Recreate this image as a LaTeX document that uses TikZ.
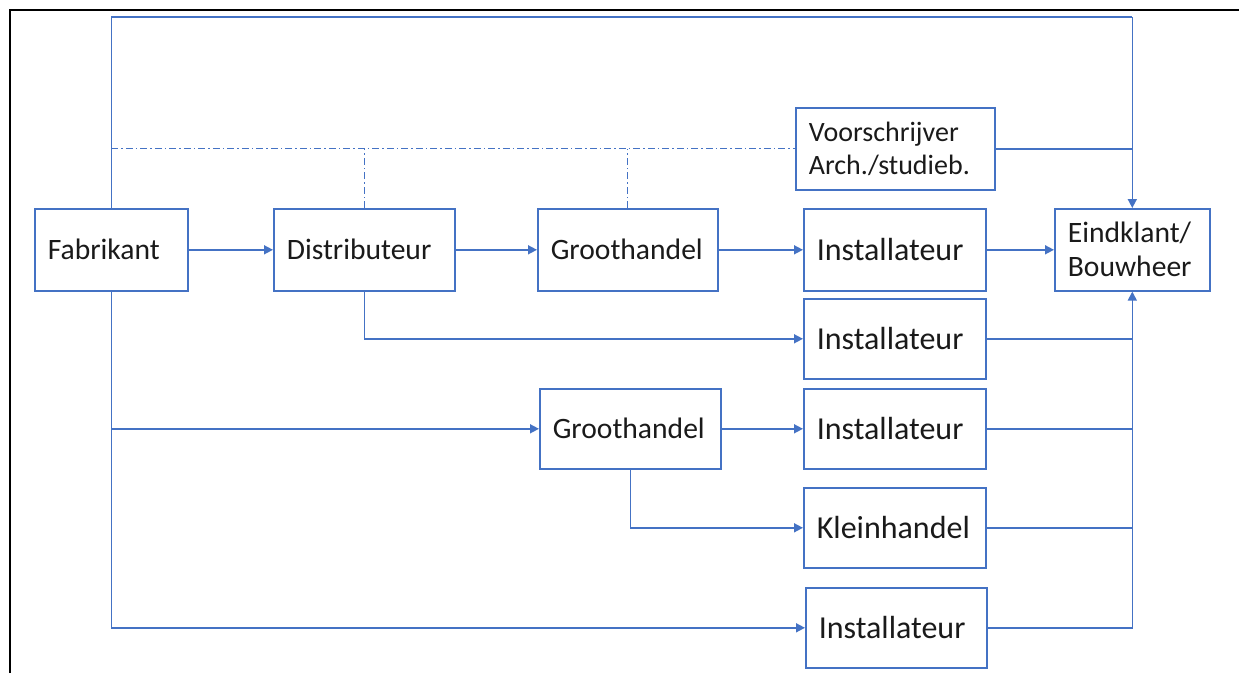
\documentclass[tikz,border=0pt]{standalone}
\usepackage{fontspec}
\setmainfont{Carlito}
\usetikzlibrary{arrows.meta}
\definecolor{lblue}{HTML}{4472C4}
\definecolor{txt}{HTML}{1A1A1A}
\tikzset{
  box/.style={draw=lblue, line width=1.6pt, inner xsep=13pt, inner ysep=0pt, align=left, anchor=north west, text=txt},
  fsmall/.style={font=\fontsize{28}{33}\selectfont},
  fmid/.style={font=\fontsize{29.6}{34}\selectfont},
  fbig/.style={font=\fontsize{32}{36}\selectfont},
  conn/.style={draw=lblue, line width=1.6pt},
  arr/.style={conn, -{Triangle[length=9pt,width=9pt]}},
  dd/.style={conn, line width=1.2pt, dash pattern=on 7pt off 3pt on 1.5pt off 3pt},
  frame/.style={draw=black, line width=2.2pt}
}
\begin{document}
\begin{tikzpicture}[x=1pt,y=1pt]
\useasboundingbox (0,0) rectangle (1239,-673);
\draw[frame] (10,-673) -- (10,-10) -- (1239,-10);
% boxes
\node[box, fmid, text width=127pt, minimum height=82pt] (fab) at (34,-208) {Fabrikant};
\node[box, fmid, text width=155pt, minimum height=82pt] (dist) at (273,-208) {Distributeur};
\node[box, fmid, text width=154pt, minimum height=82pt] (gh1) at (537,-208) {Groothandel};
\node[box, fbig, text width=156pt, minimum height=82pt] (inst1) at (803,-208) {Installateur};
\node[box, fmid, text width=129pt, minimum height=82pt] (eind) at (1054,-208) {Eindklant/\\Bouwheer};
\node[box, fsmall, text width=173pt, minimum height=82pt] (voor) at (795,-107) {Voorschrijver\\Arch./studieb.};
\node[box, fbig, text width=156pt, minimum height=80pt] (inst2) at (803,-298) {Installateur};
\node[box, fmid, text width=155pt, minimum height=80pt] (gh2) at (539,-388) {Groothandel};
\node[box, fbig, text width=156pt, minimum height=80pt] (inst3) at (803,-388) {Installateur};
\node[box, fbig, text width=156pt, minimum height=80pt] (klein) at (803,-487) {Kleinhandel};
\node[box, fbig, text width=155pt, minimum height=80pt] (inst4) at (805,-587) {Installateur};
% top connection
\coordinate (tr) at (eind.north |- 0,-17);
\draw[conn] (fab.north) |- (tr);
\draw[arr] (tr) -- (eind.north);
% dash-dot links
\coordinate (ddl) at (fab.north |- voor.west);
\draw[dd] (ddl) -- (voor.west);
\draw[dd] (dist.north) -- (dist.north |- voor.west);
\draw[dd] (gh1.north) -- (gh1.north |- voor.west);
\draw[conn] (voor.east) -- (eind.north |- voor.east);
% main row
\draw[arr] (fab.east) -- (dist.west);
\draw[arr] (dist.east) -- (gh1.west);
\draw[arr] (gh1.east) -- (inst1.west);
\draw[arr] (inst1.east) -- (eind.west);
% branches
\draw[arr] (dist.south) |- (inst2.west);
\draw[arr] (fab.south) |- (inst4.west);
\coordinate (fb) at (fab.south |- gh2.west);
\draw[arr] (fb) -- (gh2.west);
\draw[arr] (gh2.east) -- (inst3.west);
\draw[arr] (gh2.south) |- (klein.west);
% return to client
\draw[arr] (inst4.east) -| (eind.south);
\draw[conn] (inst2.east) -- (inst2.east -| eind.south);
\draw[conn] (inst3.east) -- (inst3.east -| eind.south);
\draw[conn] (klein.east) -- (klein.east -| eind.south);
\end{tikzpicture}
\end{document}
